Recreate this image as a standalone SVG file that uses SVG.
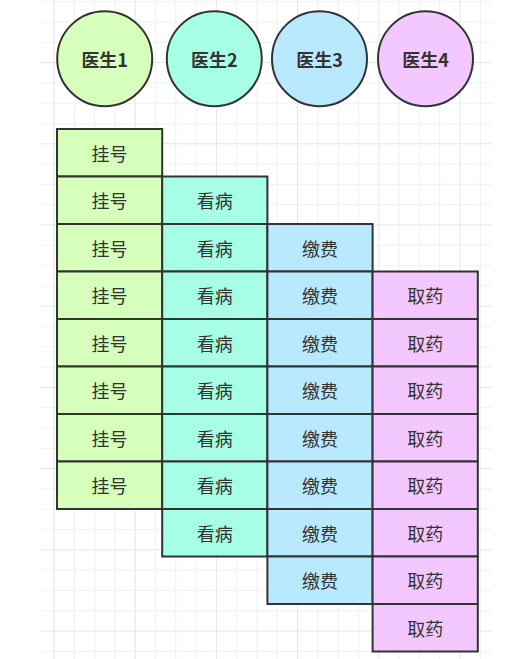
<svg xmlns="http://www.w3.org/2000/svg" width="525" height="659" viewBox="0 0 525 659">
<style>
.minor{stroke:#f0f0f0;stroke-width:1;fill:none}
.major{stroke:#e5e5e5;stroke-width:1;fill:none}
.node{stroke:#333333;stroke-width:2}
.g1{fill:#d6ffbb}.g2{fill:#a6ffe4}.g3{fill:#b8e9ff}.g4{fill:#f3c7ff}
text{font-family:"Noto Sans CJK SC","Noto Sans",sans-serif;font-size:18px;fill:#333333;text-anchor:middle;dominant-baseline:central}
.b{font-weight:bold}
</style>
<rect width="525" height="659" fill="#ffffff"/>
<g id="grid">
<path class="minor" d="M74.3 0V659M94.6 0V659M114.9 0V659M155.5 0V659M175.8 0V659M196.1 0V659M236.7 0V659M257 0V659M277.3 0V659M317.9 0V659M338.2 0V659M358.5 0V659M399.1 0V659M419.4 0V659M439.7 0V659M480.3 0V659
M41 1.7H492M41 22H492M41 42.3H492M41 82.9H492M41 103.2H492M41 123.5H492M41 164.1H492M41 184.4H492M41 204.7H492M41 245.3H492M41 265.6H492M41 285.9H492M41 326.5H492M41 346.8H492M41 367.1H492M41 407.7H492M41 428H492M41 448.3H492M41 488.9H492M41 509.2H492M41 529.5H492M41 570.1H492M41 590.4H492M41 610.7H492M41 651.3H492"/>
<path class="major" d="M54 0V659M135.2 0V659M216.4 0V659M297.6 0V659M378.8 0V659M460 0V659
M41 62.6H492M41 143.8H492M41 225H492M41 306.2H492M41 387.4H492M41 468.6H492M41 549.8H492M41 631H492"/>
</g>
<g id="doctor1"><circle class="node g1" cx="104.7" cy="58.7" r="47.5"/><text class="b" x="104.7" y="58.7">医生1</text></g>
<g id="doctor2"><circle class="node g2" cx="214.3" cy="58.7" r="47.5"/><text class="b" x="214.3" y="58.7">医生2</text></g>
<g id="doctor3"><circle class="node g3" cx="319.5" cy="58.7" r="47.5"/><text class="b" x="319.5" y="58.7">医生3</text></g>
<g id="doctor4"><circle class="node g4" cx="425.5" cy="58.7" r="47.5"/><text class="b" x="425.5" y="58.7">医生4</text></g>

<g id="c1r0"><rect class="node g1" x="57" y="129" width="105.2" height="47.5"/><text x="109.6" y="152.75">挂号</text></g>
<g id="c1r1"><rect class="node g1" x="57" y="176.5" width="105.2" height="47.5"/><text x="109.6" y="200.25">挂号</text></g>
<g id="c1r2"><rect class="node g1" x="57" y="224" width="105.2" height="47.5"/><text x="109.6" y="247.75">挂号</text></g>
<g id="c1r3"><rect class="node g1" x="57" y="271.5" width="105.2" height="47.5"/><text x="109.6" y="295.25">挂号</text></g>
<g id="c1r4"><rect class="node g1" x="57" y="319" width="105.2" height="47.5"/><text x="109.6" y="342.75">挂号</text></g>
<g id="c1r5"><rect class="node g1" x="57" y="366.5" width="105.2" height="47.5"/><text x="109.6" y="390.25">挂号</text></g>
<g id="c1r6"><rect class="node g1" x="57" y="414" width="105.2" height="47.5"/><text x="109.6" y="437.75">挂号</text></g>
<g id="c1r7"><rect class="node g1" x="57" y="461.5" width="105.2" height="47.5"/><text x="109.6" y="485.25">挂号</text></g>

<g id="c2r1"><rect class="node g2" x="162.2" y="176.5" width="105.2" height="47.5"/><text x="214.8" y="200.25">看病</text></g>
<g id="c2r2"><rect class="node g2" x="162.2" y="224" width="105.2" height="47.5"/><text x="214.8" y="247.75">看病</text></g>
<g id="c2r3"><rect class="node g2" x="162.2" y="271.5" width="105.2" height="47.5"/><text x="214.8" y="295.25">看病</text></g>
<g id="c2r4"><rect class="node g2" x="162.2" y="319" width="105.2" height="47.5"/><text x="214.8" y="342.75">看病</text></g>
<g id="c2r5"><rect class="node g2" x="162.2" y="366.5" width="105.2" height="47.5"/><text x="214.8" y="390.25">看病</text></g>
<g id="c2r6"><rect class="node g2" x="162.2" y="414" width="105.2" height="47.5"/><text x="214.8" y="437.75">看病</text></g>
<g id="c2r7"><rect class="node g2" x="162.2" y="461.5" width="105.2" height="47.5"/><text x="214.8" y="485.25">看病</text></g>
<g id="c2r8"><rect class="node g2" x="162.2" y="509" width="105.2" height="47.5"/><text x="214.8" y="532.75">看病</text></g>

<g id="c3r2"><rect class="node g3" x="267.4" y="224" width="105.2" height="47.5"/><text x="320" y="247.75">缴费</text></g>
<g id="c3r3"><rect class="node g3" x="267.4" y="271.5" width="105.2" height="47.5"/><text x="320" y="295.25">缴费</text></g>
<g id="c3r4"><rect class="node g3" x="267.4" y="319" width="105.2" height="47.5"/><text x="320" y="342.75">缴费</text></g>
<g id="c3r5"><rect class="node g3" x="267.4" y="366.5" width="105.2" height="47.5"/><text x="320" y="390.25">缴费</text></g>
<g id="c3r6"><rect class="node g3" x="267.4" y="414" width="105.2" height="47.5"/><text x="320" y="437.75">缴费</text></g>
<g id="c3r7"><rect class="node g3" x="267.4" y="461.5" width="105.2" height="47.5"/><text x="320" y="485.25">缴费</text></g>
<g id="c3r8"><rect class="node g3" x="267.4" y="509" width="105.2" height="47.5"/><text x="320" y="532.75">缴费</text></g>
<g id="c3r9"><rect class="node g3" x="267.4" y="556.5" width="105.2" height="47.5"/><text x="320" y="580.25">缴费</text></g>

<g id="c4r3"><rect class="node g4" x="372.6" y="271.5" width="105.2" height="47.5"/><text x="425.2" y="295.25">取药</text></g>
<g id="c4r4"><rect class="node g4" x="372.6" y="319" width="105.2" height="47.5"/><text x="425.2" y="342.75">取药</text></g>
<g id="c4r5"><rect class="node g4" x="372.6" y="366.5" width="105.2" height="47.5"/><text x="425.2" y="390.25">取药</text></g>
<g id="c4r6"><rect class="node g4" x="372.6" y="414" width="105.2" height="47.5"/><text x="425.2" y="437.75">取药</text></g>
<g id="c4r7"><rect class="node g4" x="372.6" y="461.5" width="105.2" height="47.5"/><text x="425.2" y="485.25">取药</text></g>
<g id="c4r8"><rect class="node g4" x="372.6" y="509" width="105.2" height="47.5"/><text x="425.2" y="532.75">取药</text></g>
<g id="c4r9"><rect class="node g4" x="372.6" y="556.5" width="105.2" height="47.5"/><text x="425.2" y="580.25">取药</text></g>
<g id="c4r10"><rect class="node g4" x="372.6" y="604" width="105.2" height="47.5"/><text x="425.2" y="627.75">取药</text></g>
<g id="connectors"/>
</svg>
